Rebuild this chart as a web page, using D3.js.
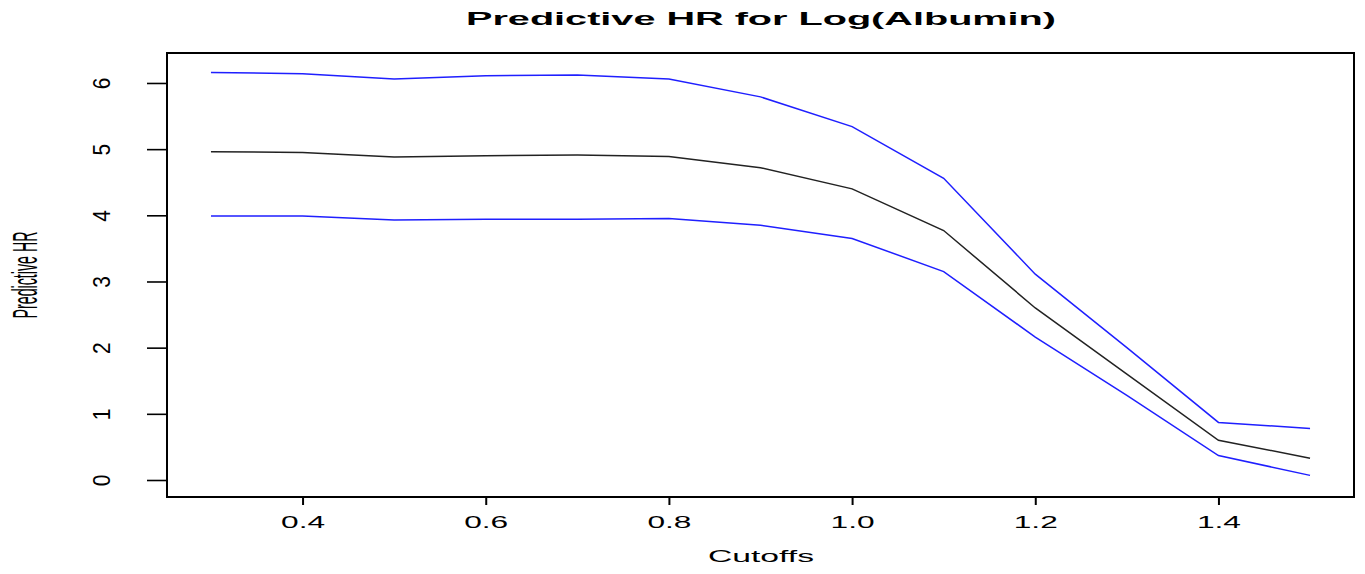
<!DOCTYPE html>
<html>
<head>
<meta charset="utf-8">
<script src="https://cdn.jsdelivr.net/npm/d3@7"></script>
<style>
  body { margin: 0; background: #fff; }
  svg text { font-family: 'Liberation Sans', Arial, sans-serif; fill: #000; }
</style>
</head>
<body>
<div id="chart"></div>
<script>
'use strict';

// cutoff values on the x axis
let cutoffs = [0.3, 0.4, 0.5, 0.6, 0.7, 0.8, 0.9, 1.0, 1.1, 1.2, 1.3, 1.4, 1.5];
// predictive HR and its upper / lower bands
let hrMid = [4.96, 4.95, 4.88, 4.90, 4.91, 4.89, 4.72, 4.40, 3.77, 2.60, 1.60, 0.60, 0.33];
let hrUpper = [6.16, 6.14, 6.06, 6.11, 6.12, 6.06, 5.79, 5.34, 4.56, 3.11, 2.00, 0.87, 0.78];
let hrLower = [3.99, 3.99, 3.93, 3.94, 3.94, 3.95, 3.85, 3.65, 3.15, 2.16, 1.28, 0.37, 0.07];
let xTicks = [0.4, 0.6, 0.8, 1.0, 1.2, 1.4];
let yTicks = [0, 1, 2, 3, 4, 5, 6];

let width = 1365;
let height = 574;
let box = {left: 167, right: 1354, top: 53, bottom: 497};

let svg = d3.select('#chart')
    .append('svg')
    .attr('width', width)
    .attr('height', height);

// R style: 4% padding around the data range
let x = d3.scaleLinear()
    .domain([0.252, 1.548])
    .range([box.left, box.right]);

let y = d3.scaleLinear()
    .domain([-0.257, 6.453])
    .range([box.bottom, box.top]);

let line = d3.line()
    .x(function(d, i) { return x(cutoffs[i]); })
    .y(function(d) { return y(d); });

// the series
let series = [
    {values: hrUpper, color: '#1f1fff'},
    {values: hrMid, color: '#222'},
    {values: hrLower, color: '#1f1fff'}
];
svg.append('g')
    .selectAll('path')
    .data(series)
    .join('path')
    .attr('d', function(d) { return line(d.values); })
    .attr('fill', 'none')
    .attr('stroke', function(d) { return d.color; })
    .attr('stroke-width', 1.5);

// plot box
svg.append('rect')
    .attr('x', box.left)
    .attr('y', box.top)
    .attr('width', box.right - box.left)
    .attr('height', box.bottom - box.top)
    .attr('fill', 'none')
    .attr('stroke', '#000')
    .attr('stroke-width', 2);

// x axis
let xAxis = d3.axisBottom(x)
    .tickValues(xTicks)
    .tickSize(8)
    .tickFormat(d3.format('.1f'));

let gX = svg.append('g')
    .attr('transform', 'translate(0,' + box.bottom + ')')
    .call(xAxis);
gX.select('.domain')
    .attr('d', 'M' + x(xTicks[0]) + ',0H' + x(xTicks[xTicks.length - 1]))
    .attr('stroke-width', 2);
gX.selectAll('.tick line').attr('stroke-width', 2);
gX.selectAll('.tick text')
    .attr('y', 31)
    .attr('dy', 0)
    .attr('font-size', 16)
    .attr('textLength', 44)
    .attr('lengthAdjust', 'spacingAndGlyphs')
    .style('font-family', "'Liberation Sans', Arial, sans-serif")
    .attr('fill', '#000');

// y axis
let yAxis = d3.axisLeft(y)
    .tickValues(yTicks)
    .tickSize(20)
    .tickFormat(d3.format('d'));

let gY = svg.append('g')
    .attr('transform', 'translate(' + box.left + ',0)')
    .call(yAxis);
gY.select('.domain')
    .attr('d', 'M0,' + y(yTicks[0]) + 'V' + y(yTicks[yTicks.length - 1]))
    .attr('stroke-width', 2);
gY.selectAll('.tick line').attr('stroke-width', 1.6);
gY.selectAll('.tick text')
    .attr('x', 0)
    .attr('dy', 0)
    .attr('text-anchor', 'middle')
    .attr('font-size', 21)
    .attr('transform', 'translate(-57,0) scale(1.15,1) rotate(-90)')
    .style('font-family', "'Liberation Sans', Arial, sans-serif")
    .attr('fill', '#000');

// title and axis labels
svg.append('text')
    .attr('x', 466)
    .attr('y', 25)
    .attr('font-size', 18.5)
    .attr('font-weight', 'bold')
    .attr('textLength', 590)
    .attr('lengthAdjust', 'spacingAndGlyphs')
    .text('Predictive HR for Log(Albumin)');

svg.append('text')
    .attr('x', 708)
    .attr('y', 562)
    .attr('font-size', 16)
    .attr('textLength', 106)
    .attr('lengthAdjust', 'spacingAndGlyphs')
    .text('Cutoffs');

svg.append('text')
    .attr('transform', 'translate(37,275) scale(2.3,1) rotate(-90)')
    .attr('text-anchor', 'middle')
    .attr('font-size', 15)
    .attr('textLength', 87)
    .attr('lengthAdjust', 'spacingAndGlyphs')
    .text('Predictive HR');
</script>
</body>
</html>
